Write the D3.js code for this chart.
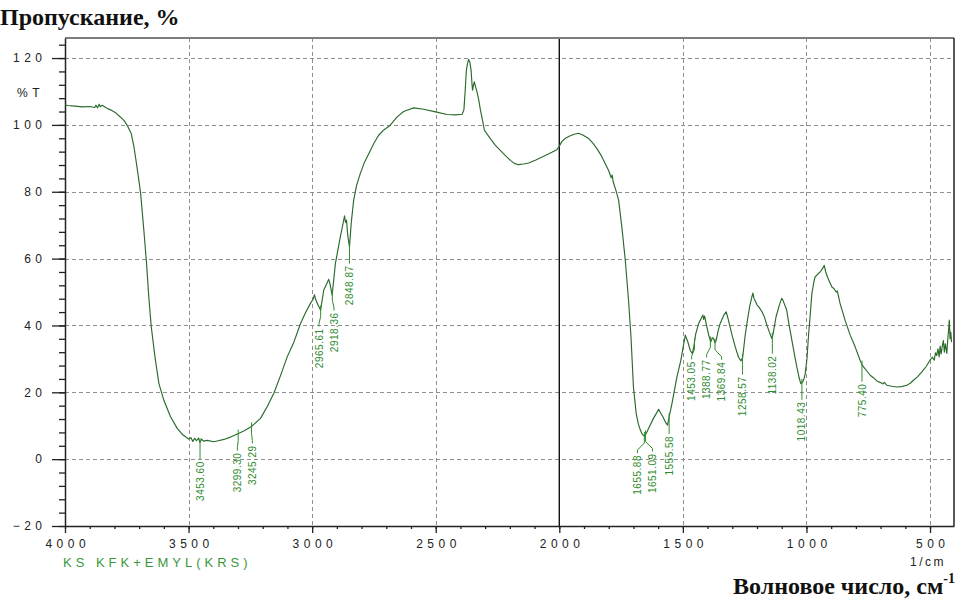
<!DOCTYPE html>
<html><head><meta charset="utf-8">
<script src="https://cdn.jsdelivr.net/npm/d3@7"></script>
<style>body{margin:0;background:#fff}svg{display:block}</style>
</head><body><svg id="c" width="971" height="600"></svg>
<script>
// ---- data ----
const spectrumWavenumber = [4000,3990,3960,3930,3900,3880,3875,3868,3862,3857,3850,3830,3816,3795,3775,3760,3748,3732,3721,3712,3705,3694,3681,3670,3661,3651,3636,3620,3600,3573,3546,3525,3512,3500,3490,3483,3475,3468,3460,3454,3447,3440,3425,3398,3380,3357,3330,3300,3275,3245,3209,3180,3155,3128,3101,3074,3047,3027,3007,2995,2991,2985,2977,2966,2953,2940,2933,2928,2919,2906,2886,2875,2869,2865,2861,2856,2849,2842,2832,2820,2805,2790,2771,2750,2731,2710,2684,2656,2630,2616,2589,2549,2501,2454,2420,2393,2386,2381,2376,2371,2367,2362,2357,2353,2351,2347,2344,2339,2333,2326,2319,2311,2303,2279,2260,2239,2218,2198,2182,2165,2145,2124,2095,2063,2030,2010,2000,1990,1975,1960,1940,1922,1905,1881,1865,1848,1830,1814,1800,1790,1786,1782,1770,1760,1747,1733,1720,1710,1700,1689,1680,1672,1665,1656,1651,1645,1639,1619,1605,1598,1590,1581,1570,1562,1556,1544,1524,1508,1498,1490,1485,1480,1470,1462,1456,1448,1436,1425,1419,1416,1412,1403,1395,1387,1381,1376,1370,1365,1357,1349,1335,1325,1317,1309,1300,1288,1275,1265,1258,1248,1240,1230,1221,1217,1212,1205,1200,1192,1180,1170,1160,1150,1140,1135,1123,1110,1100,1095,1080,1070,1059,1049,1039,1030,1023,1016,1010,1005,998,991,985,978,970,965,955,945,935,928,922,915,905,897,888,880,875,864,844,823,803,783,775,769,755,742,728,715,700,690,685,674,655,635,615,594,580,567,550,533,515,500,490,483,478,473,468,463,459,455,450,446,442,438,432,428,425,422,419,416,413];
const spectrumTransmittance = [106.0,105.8,105.6,105.4,105.5,105.2,105.9,105.1,106.2,105.4,105.9,105.0,104.5,103.6,102.3,101.2,99.8,97.4,93.4,89.0,85.5,79.5,68.5,58.5,48.5,39.6,30.6,22.6,17.6,12.7,9.2,7.4,6.7,6.0,6.4,5.3,6.2,5.5,6.3,5.0,6.0,5.4,5.6,5.2,5.5,5.9,6.6,7.6,8.5,9.8,12.2,16.0,19.7,25.0,30.6,35.0,40.6,43.8,46.6,48.0,49.2,47.6,46.3,44.6,50.6,52.6,53.8,52.5,49.1,58.5,66.5,70.5,72.8,70.8,71.5,67.0,63.5,70.5,77.5,82.0,85.5,88.5,91.4,94.5,96.9,98.5,99.9,102.4,104.0,104.4,105.1,104.7,103.9,103.1,103.0,103.2,104.5,110.0,116.4,118.5,119.6,118.8,116.4,112.0,110.4,112.0,112.9,111.5,109.9,107.5,104.4,101.5,98.4,95.9,94.0,92.4,90.8,89.4,88.5,88.1,88.3,88.6,89.5,90.6,91.8,92.6,93.6,95.0,96.0,96.6,97.2,97.5,97.0,95.9,94.6,92.9,90.8,88.4,86.3,84.2,85.0,83.0,80.2,77.5,69.5,59.5,47.6,36.6,21.6,13.7,10.5,8.7,7.5,6.9,7.4,8.2,9.2,12.2,14.0,14.9,13.8,12.7,11.0,10.2,12.5,16.7,24.6,29.6,34.0,37.1,36.0,35.1,32.5,31.6,33.5,37.5,40.6,42.2,43.1,41.8,42.8,39.6,37.0,35.1,36.3,36.1,34.8,35.6,38.5,40.6,43.0,44.1,42.0,39.6,36.8,33.6,30.5,29.4,30.5,37.0,41.0,45.6,48.5,49.7,48.0,47.0,46.1,45.5,44.1,42.5,40.1,38.0,36.1,37.5,42.6,46.0,48.1,47.5,44.6,40.0,35.6,31.5,27.6,24.5,22.6,23.0,24.0,25.6,30.0,37.6,43.0,49.6,53.0,54.5,55.3,56.0,57.0,58.0,56.0,54.5,52.8,51.5,51.0,50.0,50.3,46.6,41.6,37.1,33.6,29.6,28.2,27.6,26.3,25.1,24.3,23.4,22.9,22.5,23.0,22.1,21.8,21.6,21.7,22.1,22.7,23.6,24.7,26.1,27.8,29.6,30.5,29.6,31.8,31.0,33.0,30.6,33.8,31.5,34.0,35.5,32.0,34.5,31.6,36.0,38.5,41.6,36.0,38.0,35.0];
const peakWavenumbers = [3453.60,3299.30,3245.29,2965.61,2918.36,2848.87,1655.88,1651.09,1555.58,1453.05,1388.77,1369.84,1258.57,1138.02,1018.43,775.40];
const peakLabels = ["3453.60","3299.30","3245.29","2965.61","2918.36","2848.87","1655.88","1651.09","1555.58","1453.05","1388.77","1369.84","1258.57","1138.02","1018.43","775.40"];
const xTickValues = [4000,3500,3000,2500,2000,1500,1000,500];
const yTickValues = [-20,0,20,40,60,80,100,120];
const sampleName = "KS KFK+EMYL(KRS)";
const yTitle = "Пропускание, %";
const xTitle = "Волновое число, см";
const xUnit = "1/cm";
const yUnit = "%T";

// ---- drawing ----
const svg = d3.select("#c");
const L = 65, R = 954, T = 38, B = 526;
const x = d3.scaleLinear().domain([4000, 403]).range([L, R]);
const y = d3.scaleLinear().domain([-20, 126]).range([B, T]);
const sans = "Arial, 'Liberation Sans', sans-serif";
const serif = "'Liberation Serif', 'Times New Roman', serif";

// grid
const grid = svg.append("g").attr("stroke", "#8f8f8f").attr("stroke-width", 1).attr("stroke-dasharray", "4,3");
grid.selectAll("line.h").data(yTickValues.filter(v => v > -20)).join("line")
  .attr("x1", L).attr("x2", R).attr("y1", d => Math.round(y(d)) + 0.5).attr("y2", d => Math.round(y(d)) + 0.5);
grid.selectAll("line.v").data(xTickValues.filter(v => v !== 2000 && v !== 4000)).join("line")
  .attr("y1", T).attr("y2", B).attr("x1", d => Math.round(x(d)) + 0.5).attr("x2", d => Math.round(x(d)) + 0.5);

// solid line at 2000
svg.append("line").attr("x1", x(2000)).attr("x2", x(2000)).attr("y1", T).attr("y2", B)
  .attr("stroke", "#111").attr("stroke-width", 1.4);

// frame top / right
svg.append("line").attr("x1", L).attr("x2", R).attr("y1", T).attr("y2", T).attr("stroke", "#7d7d7d").attr("stroke-width", 2);
svg.append("line").attr("x1", R).attr("x2", R).attr("y1", T).attr("y2", B).attr("stroke", "#222").attr("stroke-width", 1.5);

// y axis
const gy = svg.append("g").attr("transform", `translate(${L},0)`)
  .call(d3.axisLeft(y).tickValues(yTickValues).tickSize(13).tickPadding(5.5).tickSizeOuter(0).tickFormat(d3.format("d")));
gy.select(".domain").attr("stroke", "#222").attr("stroke-width", 1.5);
gy.selectAll(".tick line").attr("stroke", "#222").attr("stroke-width", 1.3);
gy.selectAll("text").attr("font-family", sans).attr("font-size", 12).attr("letter-spacing", "4.5px").attr("fill", "#222");
const gyMinor = svg.append("g").attr("transform", `translate(${L},0)`)
  .call(d3.axisLeft(y).tickValues(d3.range(-20, 127, 4)).tickSize(6).tickFormat(""));
gyMinor.select(".domain").remove();
gyMinor.selectAll(".tick line").attr("stroke", "#222").attr("stroke-width", 1.3);

// x axis
const gx = svg.append("g").attr("transform", `translate(0,${B})`)
  .call(d3.axisBottom(x).tickValues(xTickValues).tickSize(7).tickPadding(6).tickSizeOuter(0).tickFormat(d3.format("d")));
gx.select(".domain").attr("stroke", "#222").attr("stroke-width", 1.5);
gx.selectAll(".tick line").attr("stroke", "#222").attr("stroke-width", 1.3);
gx.selectAll("text").attr("font-family", sans).attr("font-size", 12).attr("letter-spacing", "4.5px").attr("dx", "2.25px").attr("fill", "#222");
const gxMinor = svg.append("g").attr("transform", `translate(0,${B})`)
  .call(d3.axisBottom(x).tickValues(d3.range(4000, 403, -100)).tickSize(3).tickFormat(""));
gxMinor.select(".domain").remove();
gxMinor.selectAll(".tick line").attr("stroke", "#222").attr("stroke-width", 1.3);

// spectrum
const pts = spectrumWavenumber.map((w, i) => [w, spectrumTransmittance[i]]);
svg.append("defs").append("clipPath").attr("id", "plot").append("rect")
  .attr("x", L).attr("y", T).attr("width", R - L).attr("height", B - T);
svg.append("path").datum(pts).attr("clip-path", "url(#plot)")
  .attr("fill", "none").attr("stroke", "#2a6a2a").attr("stroke-width", 1.15).attr("stroke-linejoin", "round")
  .attr("d", d3.line().x(d => x(d[0])).y(d => y(d[1])));

// peak labels
const asc = pts.slice().sort((a, b) => a[0] - b[0]);
const bis = d3.bisector(d => d[0]).left;
function valueAt(w) {
  const i = Math.max(1, Math.min(asc.length - 1, bis(asc, w)));
  const a = asc[i - 1], b = asc[i];
  return a[1] + (b[1] - a[1]) * (w - a[0]) / (b[0] - a[0]);
}
const peaks = peakWavenumbers.map((w, i) => ({ w, label: peakLabels[i], px: x(w), yc: y(valueAt(w)) }));
peaks.forEach(p => p.lx = p.px);
const sorted = peaks.slice().sort((a, b) => a.px - b.px);
const gap = 15;
for (let it = 0; it < 200; it++) {
  for (let i = 1; i < sorted.length; i++) {
    const a = sorted[i - 1], b = sorted[i];
    const d = b.lx - a.lx;
    if (d < gap) { const s = (gap - d) / 2; a.lx -= s; b.lx += s; }
  }
}
const pg = svg.append("g");
pg.selectAll("polyline").data(peaks).join("polyline")
  .attr("fill", "none").attr("stroke", "#2e8b2e").attr("stroke-width", 1)
  .attr("points", p => [[p.px, p.yc - 4], [p.px, p.yc + 7], [p.lx, p.yc + 14], [p.lx, p.yc + 17]].map(q => q.join(",")).join(" "));
pg.selectAll("text").data(peaks).join("text")
  .attr("transform", p => `translate(${p.lx + 3.6},${p.yc + 19}) rotate(-90)`)
  .attr("text-anchor", "end").attr("font-family", sans).attr("font-size", 10)
  .attr("letter-spacing", "0.5px").attr("fill", "#2e8b2e").text(p => p.label);

// texts
svg.append("text").attr("x", 0).attr("y", 25).attr("font-family", serif).attr("font-weight", "bold")
  .attr("font-size", 24).attr("fill", "#111").text(yTitle);
svg.append("text").attr("x", 17).attr("y", 97).attr("font-family", sans).attr("font-size", 12)
  .attr("letter-spacing", "4.5px").attr("fill", "#222").text(yUnit);
svg.append("text").attr("x", 946).attr("y", 566).attr("text-anchor", "end").attr("font-family", sans)
  .attr("font-size", 12).attr("letter-spacing", "2.5px").attr("fill", "#222").text(xUnit);
svg.append("text").attr("x", 63).attr("y", 567).attr("font-family", sans).attr("font-size", 13)
  .attr("letter-spacing", "4px").attr("fill", "#3a983a").text(sampleName);
const xt = svg.append("text").attr("x", 733).attr("y", 594).attr("font-family", serif).attr("font-weight", "bold")
  .attr("font-size", 24).attr("fill", "#111");
xt.append("tspan").text(xTitle);
xt.append("tspan").attr("font-size", 14).attr("dy", -11).text("-1");
</script>
</body></html>
